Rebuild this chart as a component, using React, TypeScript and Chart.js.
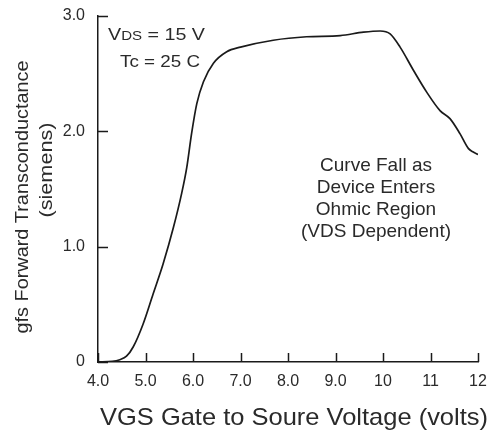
import { useEffect, useRef } from "react";
import { Chart, registerables } from "chart.js";

Chart.register(...registerables);

// Gate-source voltage (V) and forward transconductance (S)
const vgs = [4.0, 4.3, 4.46, 4.6, 4.74, 4.95, 5.16, 5.37, 5.59, 5.76, 5.87, 5.97, 6.08, 6.22, 6.43, 6.71, 7.0, 7.69, 8.39, 9.1, 9.59, 9.94, 10.15, 10.36, 10.64, 10.92, 11.2, 11.41, 11.62, 11.8, 11.9, 12.0];
const gfs = [0.0, 0.005, 0.02, 0.05, 0.13, 0.33, 0.59, 0.85, 1.17, 1.46, 1.69, 1.98, 2.24, 2.43, 2.59, 2.69, 2.73, 2.79, 2.82, 2.83, 2.86, 2.87, 2.845, 2.73, 2.53, 2.34, 2.18, 2.11, 1.98, 1.85, 1.82, 1.8];

const xTickValues = [4, 5, 6, 7, 8, 9, 10, 11, 12];
const xTickLabels = ["4.0", "5.0", "6.0", "7.0", "8.0", "9.0", "10", "11", "12"];
const yTickValues = [0, 1, 2, 3];
const yTickLabels = ["0", "1.0", "2.0", "3.0"];

const xTitle = "VGS Gate to Soure Voltage (volts)";
const yTitleLines = ["gfs Forward Transconductance", "(siemens)"];
const noteLines = ["Curve Fall as", "Device Enters", "Ohmic Region", "(VDS Dependent)"];
const condVds = ["V", "DS", " = 15 V"];
const condTc = "Tc = 25 C";

const FONT = "'Liberation Sans', Arial, Helvetica, sans-serif";
const INK = "#1a1a1a";
const TEXT = "#2a2a2a";

function fitText(ctx: CanvasRenderingContext2D, text: string, x: number, y: number, size: number, width: number) {
  ctx.font = `${size}px ${FONT}`;
  const w = ctx.measureText(text).width;
  ctx.save();
  ctx.translate(x, y);
  ctx.scale(width / w, 1);
  ctx.fillText(text, 0, 0);
  ctx.restore();
}

const overlay = {
  id: "overlay",
  afterDraw(chart: any) {
    const ctx = chart.ctx as CanvasRenderingContext2D;
    const xs = chart.scales.x;
    const ys = chart.scales.y;
    const area = chart.chartArea;
    ctx.save();
    // inward tick marks
    ctx.strokeStyle = INK;
    ctx.lineWidth = 1.5;
    ctx.beginPath();
    for (const v of xTickValues) {
      const px = Math.round(xs.getPixelForValue(v)) + 0.5;
      ctx.moveTo(px, area.bottom);
      ctx.lineTo(px, area.bottom - 9);
    }
    for (const v of yTickValues) {
      const py = Math.round(ys.getPixelForValue(v)) + 0.5;
      ctx.moveTo(area.left, py);
      ctx.lineTo(area.left + 10, py);
    }
    ctx.stroke();

    ctx.fillStyle = TEXT;
    ctx.textAlign = "center";
    ctx.textBaseline = "middle";
    // x-axis title
    fitText(ctx, xTitle, 294, 418, 24, 388);

    // y-axis title (rotated)
    ctx.save();
    ctx.translate(23, 197);
    ctx.rotate(-Math.PI / 2);
    fitText(ctx, yTitleLines[0], 0, 0, 19, 273);
    ctx.restore();
    ctx.save();
    ctx.translate(47, 170);
    ctx.rotate(-Math.PI / 2);
    fitText(ctx, yTitleLines[1], 0, 0, 18, 95);
    ctx.restore();

    // conditions
    ctx.textAlign = "left";
    const sizes = [17, 13, 17];
    let natural = 0;
    condVds.forEach((t, i) => {
      ctx.font = `${sizes[i]}px ${FONT}`;
      natural += ctx.measureText(t).width;
    });
    ctx.save();
    ctx.translate(108, 35);
    ctx.scale(97 / natural, 1);
    let x = 0;
    condVds.forEach((t, i) => {
      ctx.font = `${sizes[i]}px ${FONT}`;
      ctx.fillText(t, x, i === 1 ? 1.5 : 0);
      x += ctx.measureText(t).width;
    });
    ctx.restore();
    fitText(ctx, condTc, 120, 62, 17, 80);

    // annotation
    ctx.textAlign = "center";
    ctx.font = `19px ${FONT}`;
    noteLines.forEach((t, i) => ctx.fillText(t, 376, 166 + i * 22));
    ctx.restore();
  },
};

export default function App() {
  const ref = useRef<HTMLCanvasElement | null>(null);
  useEffect(() => {
    document.body.style.margin = "0";
    const canvas = ref.current;
    if (!canvas) return;
    const chart = new Chart(canvas, {
      type: "scatter",
      data: {
        datasets: [
          {
            data: vgs.map((v, i) => ({ x: v, y: gfs[i] })),
            showLine: true,
            borderColor: INK,
            borderWidth: 1.7,
            pointRadius: 0,
            cubicInterpolationMode: "monotone",
            fill: false,
          },
        ],
      },
      options: {
        responsive: false,
        animation: false,
        layout: { padding: { left: 0, top: 16, right: 12, bottom: 0 } },
        plugins: { legend: { display: false }, tooltip: { enabled: false } },
        scales: {
          x: {
            type: "linear",
            min: 4,
            max: 12,
            afterBuildTicks: (s: any) => {
              s.ticks = xTickValues.map((v) => ({ value: v }));
            },
            afterFit: (s: any) => {
              s.height = 77;
              s.paddingLeft = 0;
              s.paddingRight = 0;
            },
            grid: { display: false, drawTicks: false },
            border: { display: true, color: INK, width: 1.5 },
            ticks: {
              color: TEXT,
              font: { family: FONT, size: 16 },
              padding: 10,
              maxRotation: 0,
              autoSkip: false,
              callback: (v: any) => xTickLabels[xTickValues.indexOf(Number(v))] ?? "",
            },
          },
          y: {
            type: "linear",
            min: 0,
            max: 3,
            afterBuildTicks: (s: any) => {
              s.ticks = yTickValues.map((v) => ({ value: v }));
            },
            afterFit: (s: any) => {
              s.width = 98;
              s.paddingTop = 0;
              s.paddingBottom = 0;
            },
            grid: { display: false, drawTicks: false },
            border: { display: true, color: INK, width: 1.5 },
            ticks: {
              color: TEXT,
              font: { family: FONT, size: 16 },
              padding: 13,
              autoSkip: false,
              callback: (v: any) => yTickLabels[yTickValues.indexOf(Number(v))] ?? "",
            },
          },
        },
      },
      plugins: [overlay],
    } as any);
    return () => chart.destroy();
  }, []);
  return (
    <div style={{ width: 490, height: 439, background: "#fff" }}>
      <canvas ref={ref} width={490} height={439} />
    </div>
  );
}
